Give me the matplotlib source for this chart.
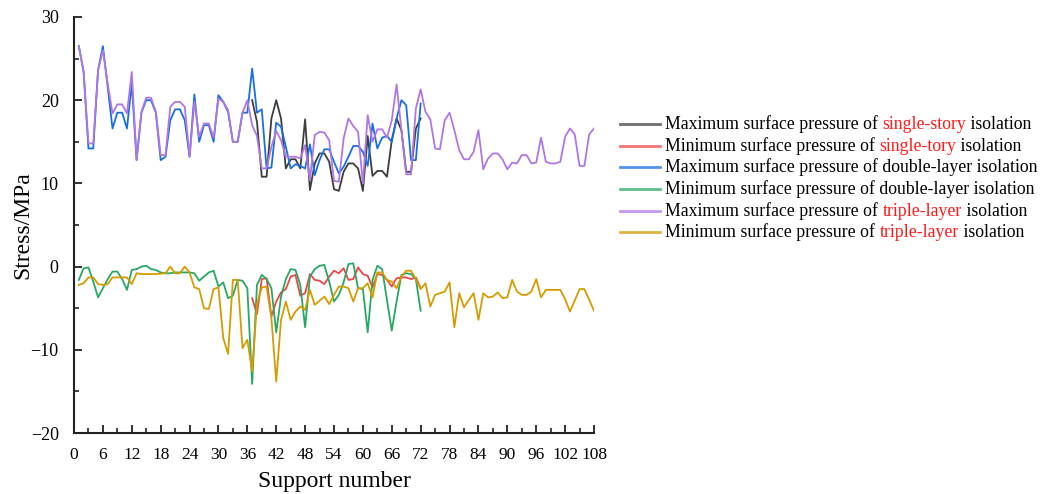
import numpy as np
import matplotlib
matplotlib.use("Agg")
import matplotlib.pyplot as plt
from matplotlib.ticker import MultipleLocator
from matplotlib.lines import Line2D

plt.rcParams['font.family'] = ['Liberation Serif', 'DejaVu Serif']

# Support numbers
support_all = np.arange(1, 109)      # 1..108
support_72 = np.arange(1, 73)        # 1..72
support_single = np.arange(37, 73)   # 37..72

max_single = [20.0, 17.4, 10.8, 10.8, 17.8, 20.0, 17.8, 11.8, 12.9, 12.9, 11.8, 17.7,
              9.2, 12.4, 13.6, 13.6, 12.6, 9.3, 9.1, 11.4, 12.4, 12.4, 11.8, 9.1,
              15.7, 10.9, 11.5, 11.5, 10.8, 15.2, 17.8, 16.4, 11.4, 11.4, 16.6, 17.8]

min_single = [-3.8, -5.7, -1.5, -1.4, -6.0, -4.2, -3.1, -2.7, -1.2, -1.0, -3.5, -3.2,
              -0.9, -1.6, -1.7, -2.1, -1.2, -0.5, -0.8, -0.2, -1.6, -1.5, -0.1, -0.9,
              -1.1, -2.5, -0.9, -1.0, -1.6, -2.4, -1.4, -1.3, -1.3, -1.5, -1.3, -2.6]

max_double = [26.5, 23.4, 14.2, 14.2, 23.6, 26.5, 21.6, 16.6, 18.5, 18.5, 16.6, 22.0,
              12.8, 18.5, 20.0, 20.0, 18.5, 12.8, 13.2, 17.6, 18.9, 18.9, 17.6, 13.2,
              20.7, 15.0, 17.0, 17.0, 15.0, 20.6, 19.8, 18.6, 15.0, 15.0, 18.5, 18.5,
              23.8, 18.5, 18.9, 11.8, 11.9, 17.3, 16.8, 14.4, 11.8, 12.3, 12.1, 11.8,
              14.7, 11.0, 12.8, 14.1, 14.1, 12.6, 11.2, 12.0, 13.2, 14.5, 14.5, 13.8,
              12.1, 17.2, 14.2, 15.5, 15.7, 15.0, 17.8, 20.0, 19.4, 12.8, 12.8, 19.6]

min_double = [-1.6, -0.2, -0.1, -1.8, -3.7, -2.6, -1.5, -0.6, -0.6, -1.5, -2.8, -0.4,
              -0.3, 0.0, 0.1, -0.3, -0.4, -0.7, -0.8, -0.8, -0.7, -0.7, -0.7, -0.7,
              -0.8, -1.7, -1.2, -0.7, -0.5, -2.4, -1.9, -3.8, -3.5, -1.6, -1.7, -2.6,
              -14.1, -2.2, -1.0, -1.5, -2.6, -7.9, -3.6, -1.5, -0.3, -0.4, -2.2, -7.3,
              -1.2, -0.3, 0.1, 0.2, -1.8, -4.2, -3.4, -1.9, 0.3, 0.4, -2.6, -2.7,
              -7.9, -1.6, 0.1, -0.3, -4.0, -7.7, -4.2, -1.0, -0.8, -0.9, -1.5, -5.3]

max_triple = [26.5, 23.4, 14.8, 14.8, 23.6, 26.0, 22.0, 18.4, 19.5, 19.5, 18.4, 23.4,
              12.8, 18.6, 20.3, 20.3, 18.6, 13.4, 13.4, 19.2, 19.8, 19.8, 19.2, 13.2,
              19.8, 15.6, 17.2, 17.2, 15.5, 20.2, 19.8, 18.8, 15.0, 15.0, 18.5, 20.0,
              17.0, 15.7, 11.8, 11.8, 14.4, 16.3, 15.2, 13.2, 13.2, 13.2, 13.0, 14.6,
              10.4, 15.8, 16.2, 16.1, 15.2, 10.3, 10.2, 15.4, 17.8, 16.9, 16.2, 10.0,
              18.2, 15.0, 16.5, 16.5, 15.5, 17.6, 21.9, 16.4, 11.1, 11.1, 19.0, 21.3,
              18.6, 17.7, 14.2, 14.1, 17.6, 18.5, 16.4, 14.0, 12.9, 12.9, 13.8, 16.4,
              11.7, 13.0, 13.6, 13.6, 12.9, 11.7, 12.5, 12.4, 13.4, 13.4, 12.4, 12.5,
              15.5, 12.6, 12.4, 12.4, 12.6, 15.6, 16.6, 15.9, 12.1, 12.1, 15.9, 16.6]

min_triple = [-2.2, -2.0, -1.3, -1.3, -2.1, -2.2, -2.1, -1.3, -1.3, -1.3, -1.3, -2.1,
              -0.8, -0.9, -0.9, -0.9, -0.9, -0.85, -0.8, 0.0, -0.8, -0.8, 0.0, -0.7,
              -2.5, -2.7, -5.0, -5.1, -2.7, -2.5, -8.6, -10.5, -1.6, -1.6, -9.8, -8.8,
              -12.6, -4.5, -2.5, -2.4, -6.2, -13.8, -6.4, -4.2, -6.4, -5.4, -4.8, -5.2,
              -2.8, -4.6, -4.1, -3.6, -4.5, -3.4, -2.4, -2.4, -2.6, -4.2, -2.6, -2.6,
              -2.0, -3.7, -0.7, -0.7, -1.6, -1.8, -2.6, -1.2, -0.5, -0.5, -1.5, -2.7,
              -2.0, -4.8, -3.4, -3.2, -3.0, -1.9, -7.3, -3.2, -4.9, -4.0, -3.2, -6.4,
              -3.2, -3.7, -3.6, -3.1, -3.8, -3.7, -1.6, -3.0, -3.4, -3.4, -3.0, -1.5,
              -3.7, -2.8, -2.8, -2.8, -2.8, -3.9, -5.4, -4.1, -2.7, -2.7, -4.0, -5.3]

x_ticks = list(range(0, 109, 6))

RED = '#ff1a1a'
series = [
    (support_single, max_single, '#3d3d3d',
     [("Maximum surface pressure of ", 'black'), ("single-story", RED), (" isolation", 'black')]),
    (support_single, min_single, '#f04545',
     [("Minimum surface pressure of ", 'black'), ("single-tory", RED), (" isolation", 'black')]),
    (support_72, max_double, '#1a6fe0',
     [("Maximum surface pressure of double-layer isolation", 'black')]),
    (support_72, min_double, '#28a865',
     [("Minimum surface pressure of double-layer isolation", 'black')]),
    (support_all, max_triple, '#b076e6',
     [("Maximum surface pressure of ", 'black'), ("triple-layer", RED), (" isolation", 'black')]),
    (support_all, min_triple, '#d49c00',
     [("Minimum surface pressure of ", 'black'), ("triple-layer", RED), (" isolation", 'black')]),
]

W, H = 1051, 494
fig = plt.figure(figsize=(W / 100, H / 100), dpi=100)
ax = fig.add_axes([74 / W, 61 / H, 520 / W, 416 / H])

for xs, ys, col, _ in series:
    ax.plot(xs, ys, color=col, lw=1.3)

ax.set_xlim(0, 108)
ax.set_ylim(-20, 30)
ax.set_xticks(x_ticks)
ax.xaxis.set_minor_locator(MultipleLocator(3))
ax.yaxis.set_major_locator(MultipleLocator(10))
ax.yaxis.set_minor_locator(MultipleLocator(5))
for s in ['top', 'right']:
    ax.spines[s].set_visible(False)
for s in ['left', 'bottom']:
    ax.spines[s].set_linewidth(1.5)
    ax.spines[s].set_color('#222222')
ax.tick_params(which='major', direction='in', length=6, width=1.3, labelsize=13, color='#222222')
ax.tick_params(which='minor', direction='in', length=3.5, width=1.2, color='#222222')
ax.tick_params(axis='x', labelsize=12.5, pad=10)
ax.tick_params(axis='y', pad=11)
ax.set_xlabel("Support number", fontsize=17, labelpad=6)
ax.set_ylabel("Stress/MPa", fontsize=17, labelpad=-2)

# Legend built by hand so parts of each label can be coloured
row_y0 = 124
row_dy = 21.7
for k, (_, _, col, parts) in enumerate(series):
    yf = 1 - (row_y0 + k * row_dy) / H
    fig.add_artist(Line2D([620 / W, 660 / W], [yf, yf], color=col, lw=2, alpha=0.75,
                          transform=fig.transFigure))
    last = None
    for txt, tc in parts:
        if last is None:
            last = fig.text(665 / W, yf, txt, color=tc, fontsize=12.8,
                            va='center', ha='left')
        else:
            last = fig.add_artist(matplotlib.text.Annotation(
                txt, xy=(1, 0), xycoords=last, va='bottom', ha='left',
                color=tc, fontsize=12.8, annotation_clip=False))

fig.savefig("out.png", dpi=100)
